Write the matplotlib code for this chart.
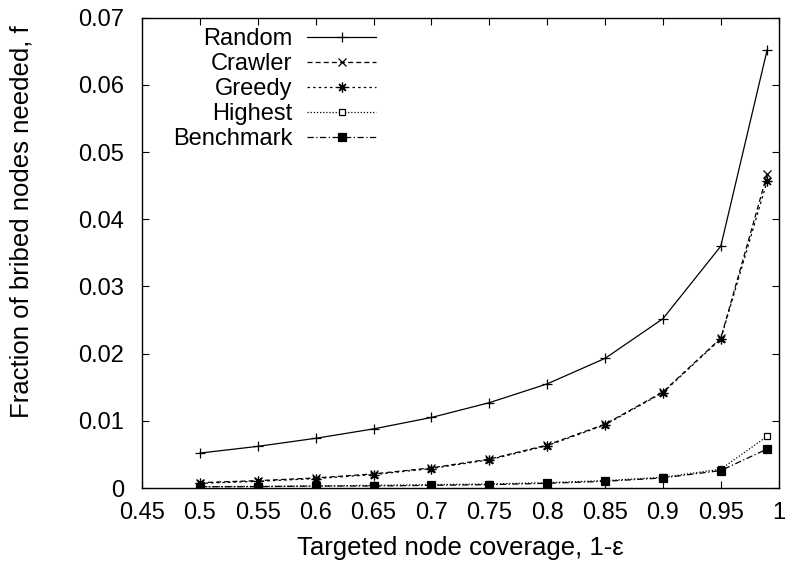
import matplotlib
matplotlib.use("Agg")
import matplotlib.pyplot as plt
import matplotlib.ticker

plt.rcParams["font.family"] = ["Liberation Sans", "DejaVu Sans"]

coverage = [0.5, 0.55, 0.6, 0.65, 0.7, 0.75, 0.8, 0.85, 0.9, 0.95, 0.99]
random_f = [0.0052, 0.0062, 0.0074, 0.0088, 0.0105, 0.0127, 0.0155, 0.0193, 0.0252, 0.0360, 0.0652]
crawler_f = [0.0008, 0.0011, 0.0015, 0.0021, 0.0030, 0.0043, 0.0064, 0.0095, 0.0143, 0.0223, 0.0467]
greedy_f = [0.0007, 0.0010, 0.0014, 0.0020, 0.0029, 0.0042, 0.0063, 0.0094, 0.0142, 0.0222, 0.0457]
highest_f = [0.0002, 0.00025, 0.0003, 0.0004, 0.0005, 0.0006, 0.0008, 0.0011, 0.0016, 0.0028, 0.0077]
benchmark_f = [0.0002, 0.0002, 0.0003, 0.0003, 0.0004, 0.0005, 0.0007, 0.0010, 0.0015, 0.0026, 0.0058]

x_ticks = [0.45, 0.5, 0.55, 0.6, 0.65, 0.7, 0.75, 0.8, 0.85, 0.9, 0.95, 1.0]
y_ticks = [0, 0.01, 0.02, 0.03, 0.04, 0.05, 0.06, 0.07]

fs = 17
label_fs = 18.5

fig = plt.figure(figsize=(7.88, 5.68), dpi=100)
ax = fig.add_axes([0.1802, 0.1408, 0.808, 0.828])

lw = 0.9
ax.plot(coverage, random_f, color="black", lw=lw, ls="-", marker="+", ms=7, mew=0.9, label="Random")
ax.plot(coverage, crawler_f, color="black", lw=lw, ls=(0, (4, 2.5)), marker="x", ms=6, mew=0.9, label="Crawler")
ax.plot(coverage, greedy_f, color="black", lw=lw, ls=(0, (2, 2.5)), marker=(8, 2, 0), ms=7, mew=0.9, label="Greedy")
ax.plot(coverage, highest_f, color="black", lw=lw, ls=(0, (1, 1.5)), marker="s", ms=5, mew=0.9,
        mfc="white", label="Highest")
ax.plot(coverage, benchmark_f, color="black", lw=lw, ls=(0, (5, 2, 1, 2)), marker="s", ms=6, mew=0.9,
        label="Benchmark")

ax.set_xlim(0.45, 1.0)
ax.set_ylim(0, 0.07)
ax.set_xticks(x_ticks)
ax.set_yticks(y_ticks)
ax.get_xaxis().set_major_formatter(matplotlib.ticker.FormatStrFormatter("%g"))
ax.get_yaxis().set_major_formatter(matplotlib.ticker.FormatStrFormatter("%g"))
ax.tick_params(direction="in", length=5, width=0.8, top=True, right=True, labelsize=fs)
ax.tick_params(axis="x", pad=10)
ax.tick_params(axis="y", pad=13)
for s in ax.spines.values():
    s.set_linewidth(1.0)

ax.set_xlabel("Targeted node coverage, 1-ε", fontsize=label_fs, labelpad=9)
ax.set_ylabel("Fraction of bribed nodes needed, f", fontsize=label_fs)
ax.yaxis.set_label_coords(-0.170, 0.566)

leg = ax.legend(loc="upper right", bbox_to_anchor=(0.382, 0.998), frameon=False, markerfirst=False,
                fontsize=fs, handlelength=2.9, handletextpad=1.05, labelspacing=0.13,
                borderaxespad=0.0)
for t in leg.get_texts():
    t.set_ha("right")
    t.set_position((10, 0))

plt.savefig("out.png", dpi=100)
plt.close()
